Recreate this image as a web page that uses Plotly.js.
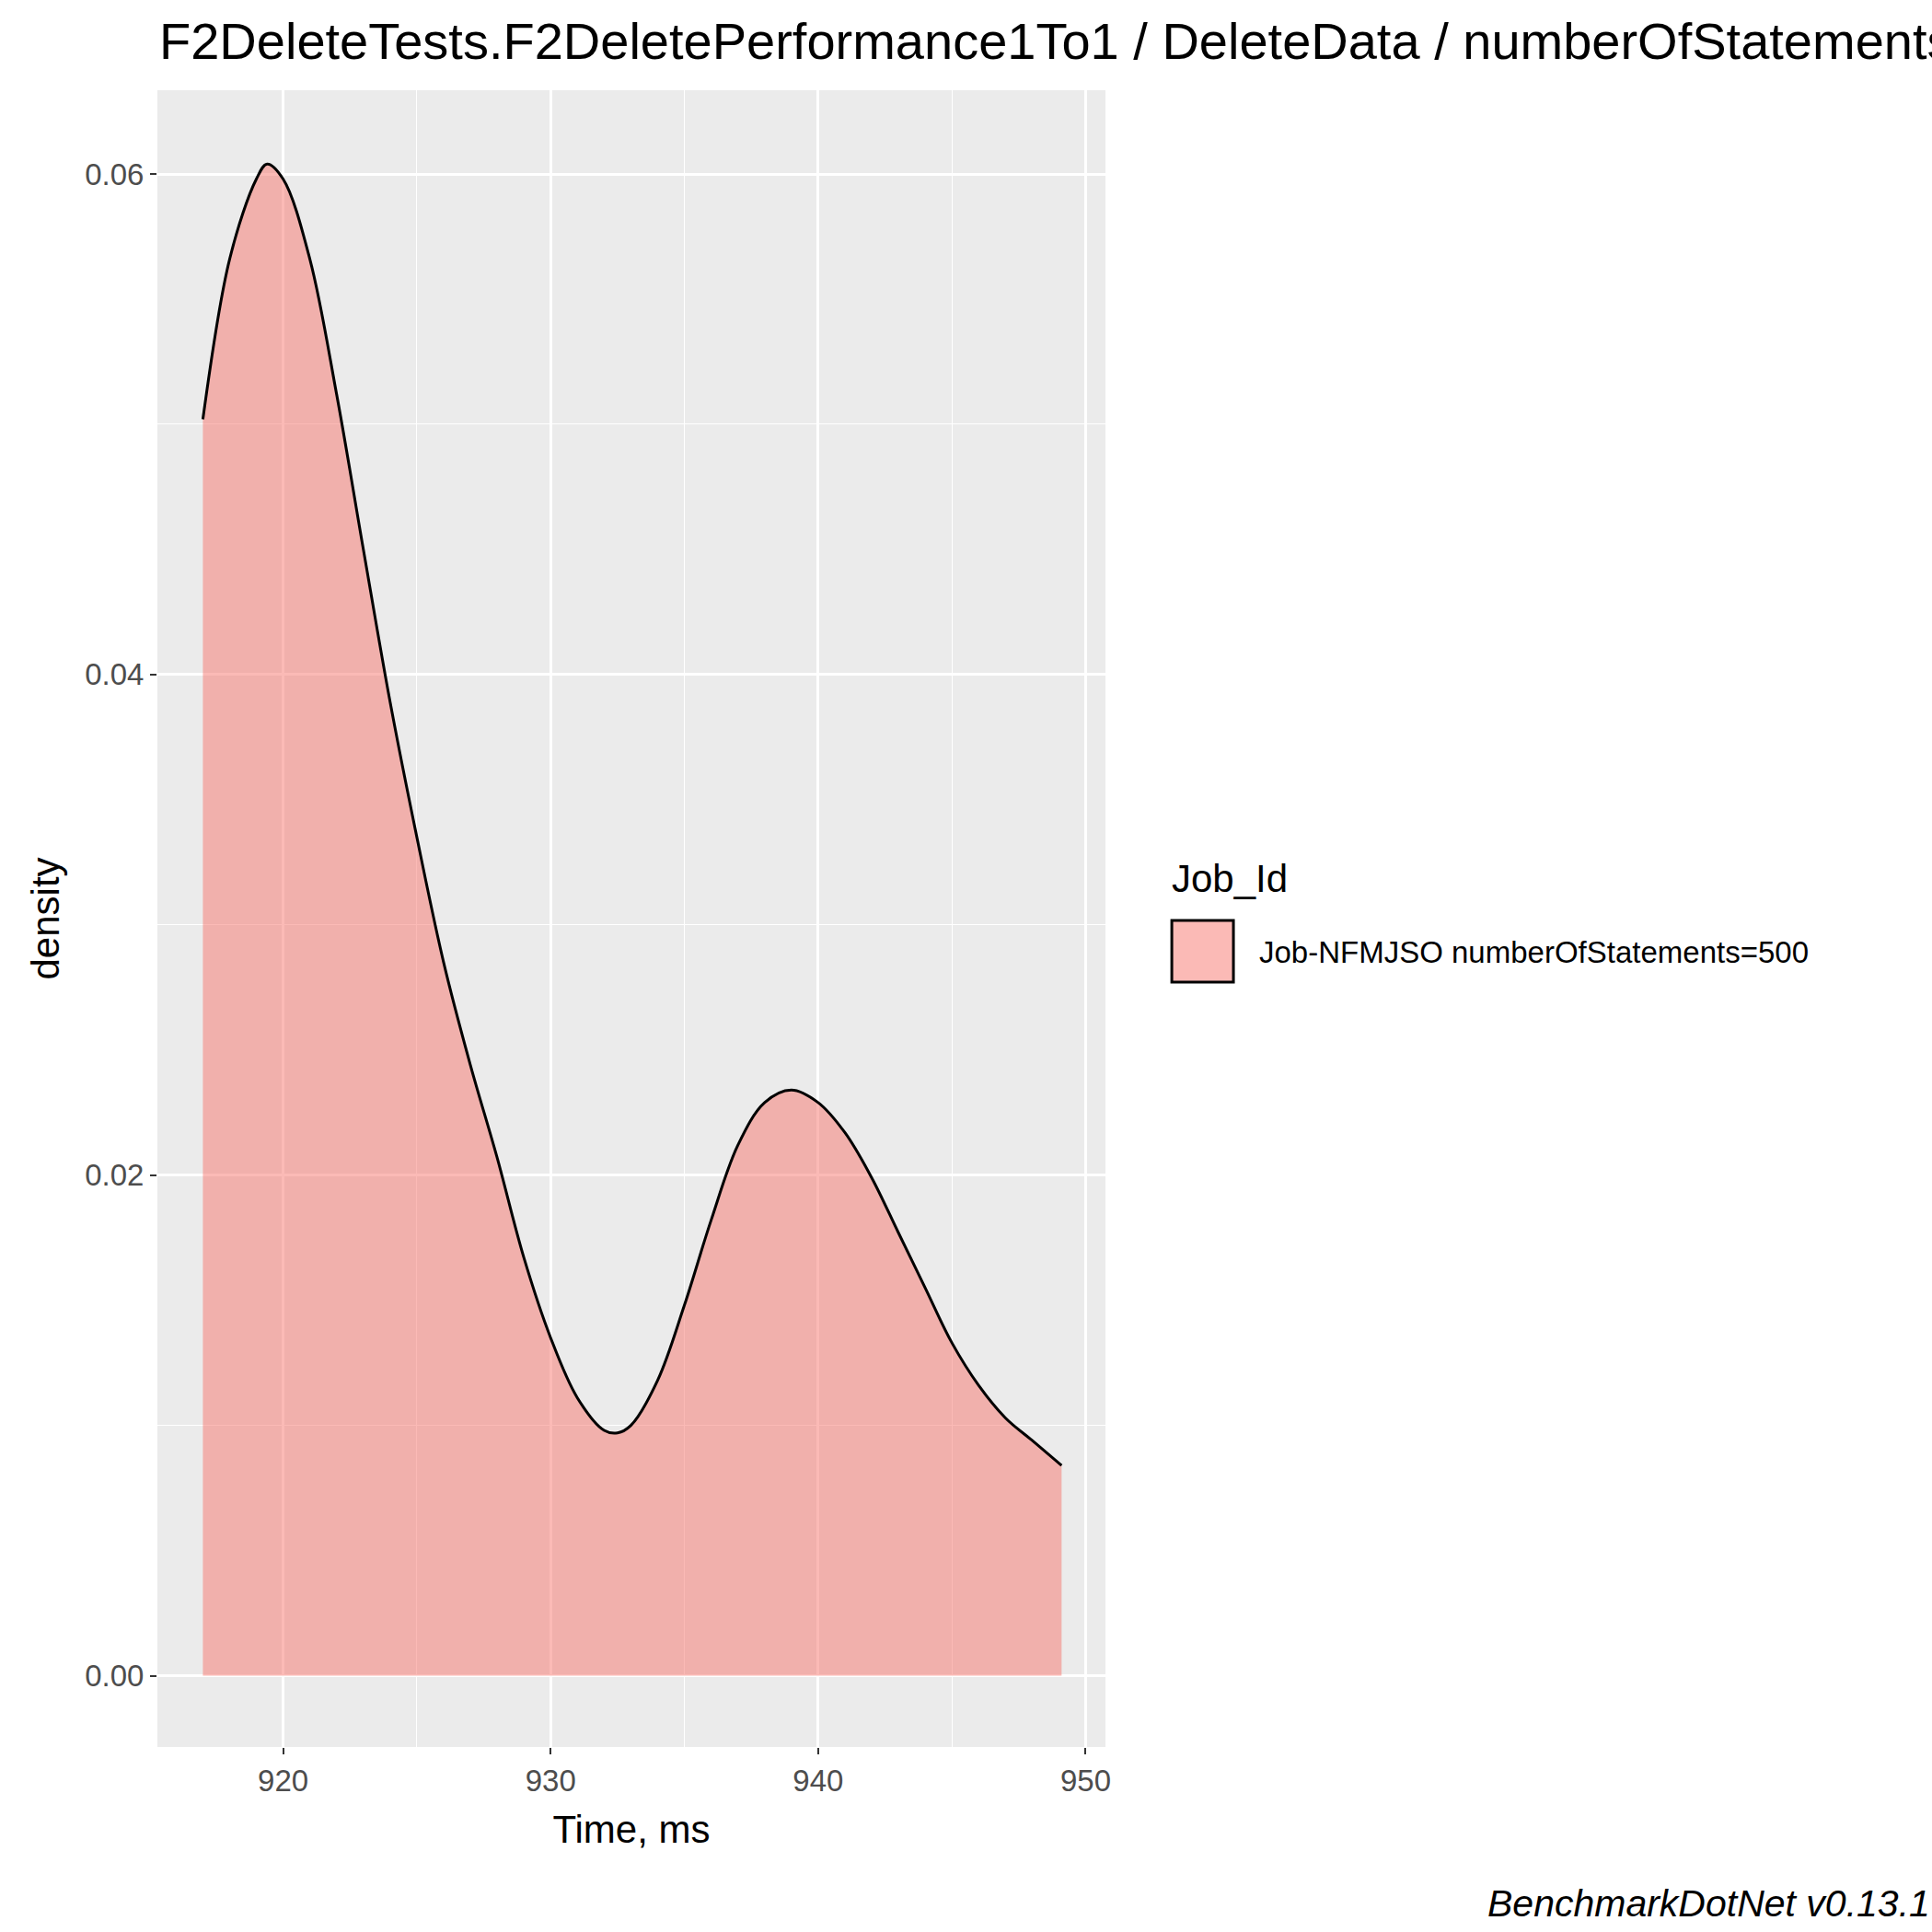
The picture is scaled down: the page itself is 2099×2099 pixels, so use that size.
<html>
<head>
<meta charset="utf-8">
<script src="https://cdn.plot.ly/plotly-3.0.1.min.js"></script>
<style>body{margin:0;background:#fff}</style>
</head>
<body>
<div id="plot"></div>
<script>
// density estimate
const timeMs = [917, 918, 919, 919.4, 920, 921, 922, 923, 924, 925, 926, 927, 928, 929, 930, 931, 932, 932.5, 933, 934, 935, 936, 937, 938, 939, 940, 941, 942, 943, 944, 945, 946, 947, 948, 949.1]
const density = [0.0502, 0.0566, 0.0598, 0.0604, 0.0598, 0.0566, 0.0512, 0.0450, 0.0389, 0.0335, 0.0285, 0.0244, 0.0207, 0.0167, 0.0135, 0.0111, 0.0098, 0.0097, 0.0100, 0.0118, 0.0148, 0.0182, 0.0212, 0.0229, 0.0234, 0.0229, 0.0217, 0.0199, 0.0177, 0.0155, 0.0133, 0.0116, 0.0103, 0.0094, 0.0084]
const jobName = 'Job-NFMJSO numberOfStatements=500'
const xTicks = [920, 930, 940, 950]
const yTicks = [0, 0.02, 0.04, 0.06]
const yTickText = ['0.00', '0.02', '0.04', '0.06']

const font = 'Liberation Sans, Arial, sans-serif'
const fill = 'rgba(248,118,109,0.5)'

Plotly.newPlot('plot', [{
  x: timeMs,
  y: density,
  type: 'scatter',
  mode: 'lines',
  fill: 'tozeroy',
  fillcolor: fill,
  line: { color: 'black', width: 3, shape: 'spline' },
  name: jobName
}], {
  width: 2099,
  height: 2099,
  paper_bgcolor: 'white',
  plot_bgcolor: '#EBEBEB',
  margin: { l: 171, r: 898, t: 98, b: 201 },
  font: { family: font, color: '#4D4D4D', size: 33 },
  showlegend: false,
  xaxis: {
    range: [915.3, 950.74],
    tickvals: xTicks,
    ticks: 'outside', ticklen: 7, tickcolor: '#333', tickwidth: 2,
    gridcolor: 'white', gridwidth: 2.7,
    minor: { dtick: 5, tick0: 915, gridcolor: 'white', gridwidth: 1.3, showgrid: true },
    zeroline: false, showline: false,
    title: { text: 'Time, ms', font: { size: 42, color: 'black' }, standoff: 20 }
  },
  yaxis: {
    range: [-0.00285, 0.06335],
    tickvals: yTicks,
    ticktext: yTickText,
    ticks: 'outside', ticklen: 7, tickcolor: '#333', tickwidth: 2,
    gridcolor: 'white', gridwidth: 2.7,
    minor: { dtick: 0.01, tick0: 0, gridcolor: 'white', gridwidth: 1.3, showgrid: true },
    zeroline: false, showline: false,
    title: { text: 'density', font: { size: 42, color: 'black' }, standoff: 14 }
  },
  shapes: [{
    type: 'rect', xref: 'paper', yref: 'paper',
    x0: 1.070, x1: 1.135, y0: 0.4617, y1: 0.4989,
    fillcolor: fill, line: { color: 'black', width: 3 }
  }],
  annotations: [{
    text: 'F2DeleteTests.F2DeletePerformance1To1 / DeleteData / numberOfStatements',
    xref: 'paper', yref: 'paper', x: 0, y: 1, xanchor: 'left', yanchor: 'bottom',
    yshift: 20, showarrow: false, font: { size: 56, color: 'black' }
  }, {
    text: 'Job_Id', xref: 'paper', yref: 'paper', x: 1.068, y: 0.524,
    xanchor: 'left', yanchor: 'middle', showarrow: false, font: { size: 42, color: 'black' }
  }, {
    text: jobName, xref: 'paper', yref: 'paper', x: 1.160, y: 0.4796,
    xanchor: 'left', yanchor: 'middle', showarrow: false, font: { size: 33, color: 'black' }
  }, {
    text: '<i>BenchmarkDotNet v0.13.1</i>',
    xref: 'paper', yref: 'paper', x: 1.872, y: -0.0945, xanchor: 'right', yanchor: 'middle',
    showarrow: false, font: { size: 41, color: 'black' }
  }]
}, {
  displayModeBar: false
})
</script>
</body>
</html>
